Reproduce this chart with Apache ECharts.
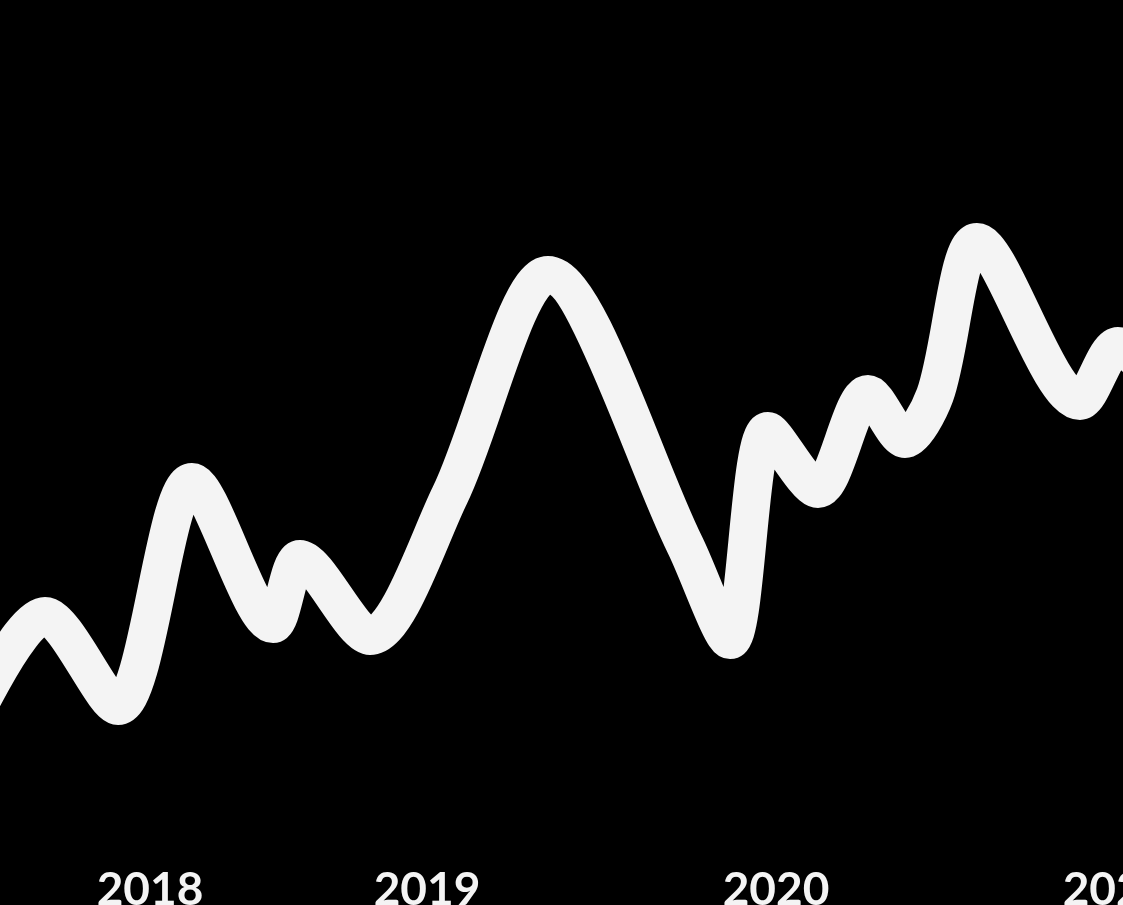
<!DOCTYPE html>
<html>
<head>
<meta charset="utf-8">
<script src="https://cdn.jsdelivr.net/npm/echarts@6/dist/echarts.min.js"></script>
<style>
  html, body { margin: 0; padding: 0; background: #000; }
  #chart { width: 1123px; height: 905px; }
</style>
</head>
<body>
<div id="chart"></div>
<script>
// Period positions (x) and values (y)
const periods = [-4.0, 4.5, 11.8, 19.2, 27.3, 30.0, 37.0, 45.0, 54.8, 68.5, 73.0, 76.8, 81.8, 86.8, 90.5, 93.5, 97.7, 108.0, 111.8, 117.0];
const values  = [12.0, 24.9, 15.9, 38.3, 24.1, 30.6, 22.9, 37.0, 59.0, 32.0, 22.5, 43.4, 37.6, 47.1, 42.6, 47.0, 62.3, 46.4, 51.9, 46.5];
// Year tick labels and the periods where they sit
const yearLabels = ['2018', '2019', '2020', '2021'];
const yearPositions = [15.0, 42.7, 77.6, 111.6];

const seriesData = periods.map((p, i) => [p, values[i]]);

const chart = echarts.init(document.getElementById('chart'), null, { renderer: 'canvas' });
chart.setOption({
  backgroundColor: '#000000',
  animation: false,
  grid: { left: 0, right: 0, top: 0, bottom: 40, containLabel: false, outerBoundsMode: 'none' },
  xAxis: {
    type: 'value',
    min: 0,
    max: 112.3,
    axisLine: { show: false },
    axisTick: { show: false },
    splitLine: { show: false },
    axisLabel: {
      customValues: yearPositions,
      hideOverlap: false,
      formatter: function (v) {
        let best = 0, d = Infinity;
        yearPositions.forEach((p, i) => { if (Math.abs(p - v) < d) { d = Math.abs(p - v); best = i; } });
        return yearLabels[best];
      },
      color: '#f4f4f4',
      fontFamily: 'Lato',
      fontWeight: 'bold',
      fontSize: 46,
      lineHeight: 46,
      margin: 2,
      verticalAlign: 'top'
    }
  },
  yAxis: {
    type: 'value',
    min: 0,
    max: 86.5,
    show: false,
    splitLine: { show: false }
  },
  series: [{
    type: 'line',
    data: seriesData,
    smooth: 0.3,
    showSymbol: false,
    clip: true,
    lineStyle: { color: '#f4f4f4', width: 38, cap: 'round', join: 'round' }
  }]
});
</script>
</body>
</html>
